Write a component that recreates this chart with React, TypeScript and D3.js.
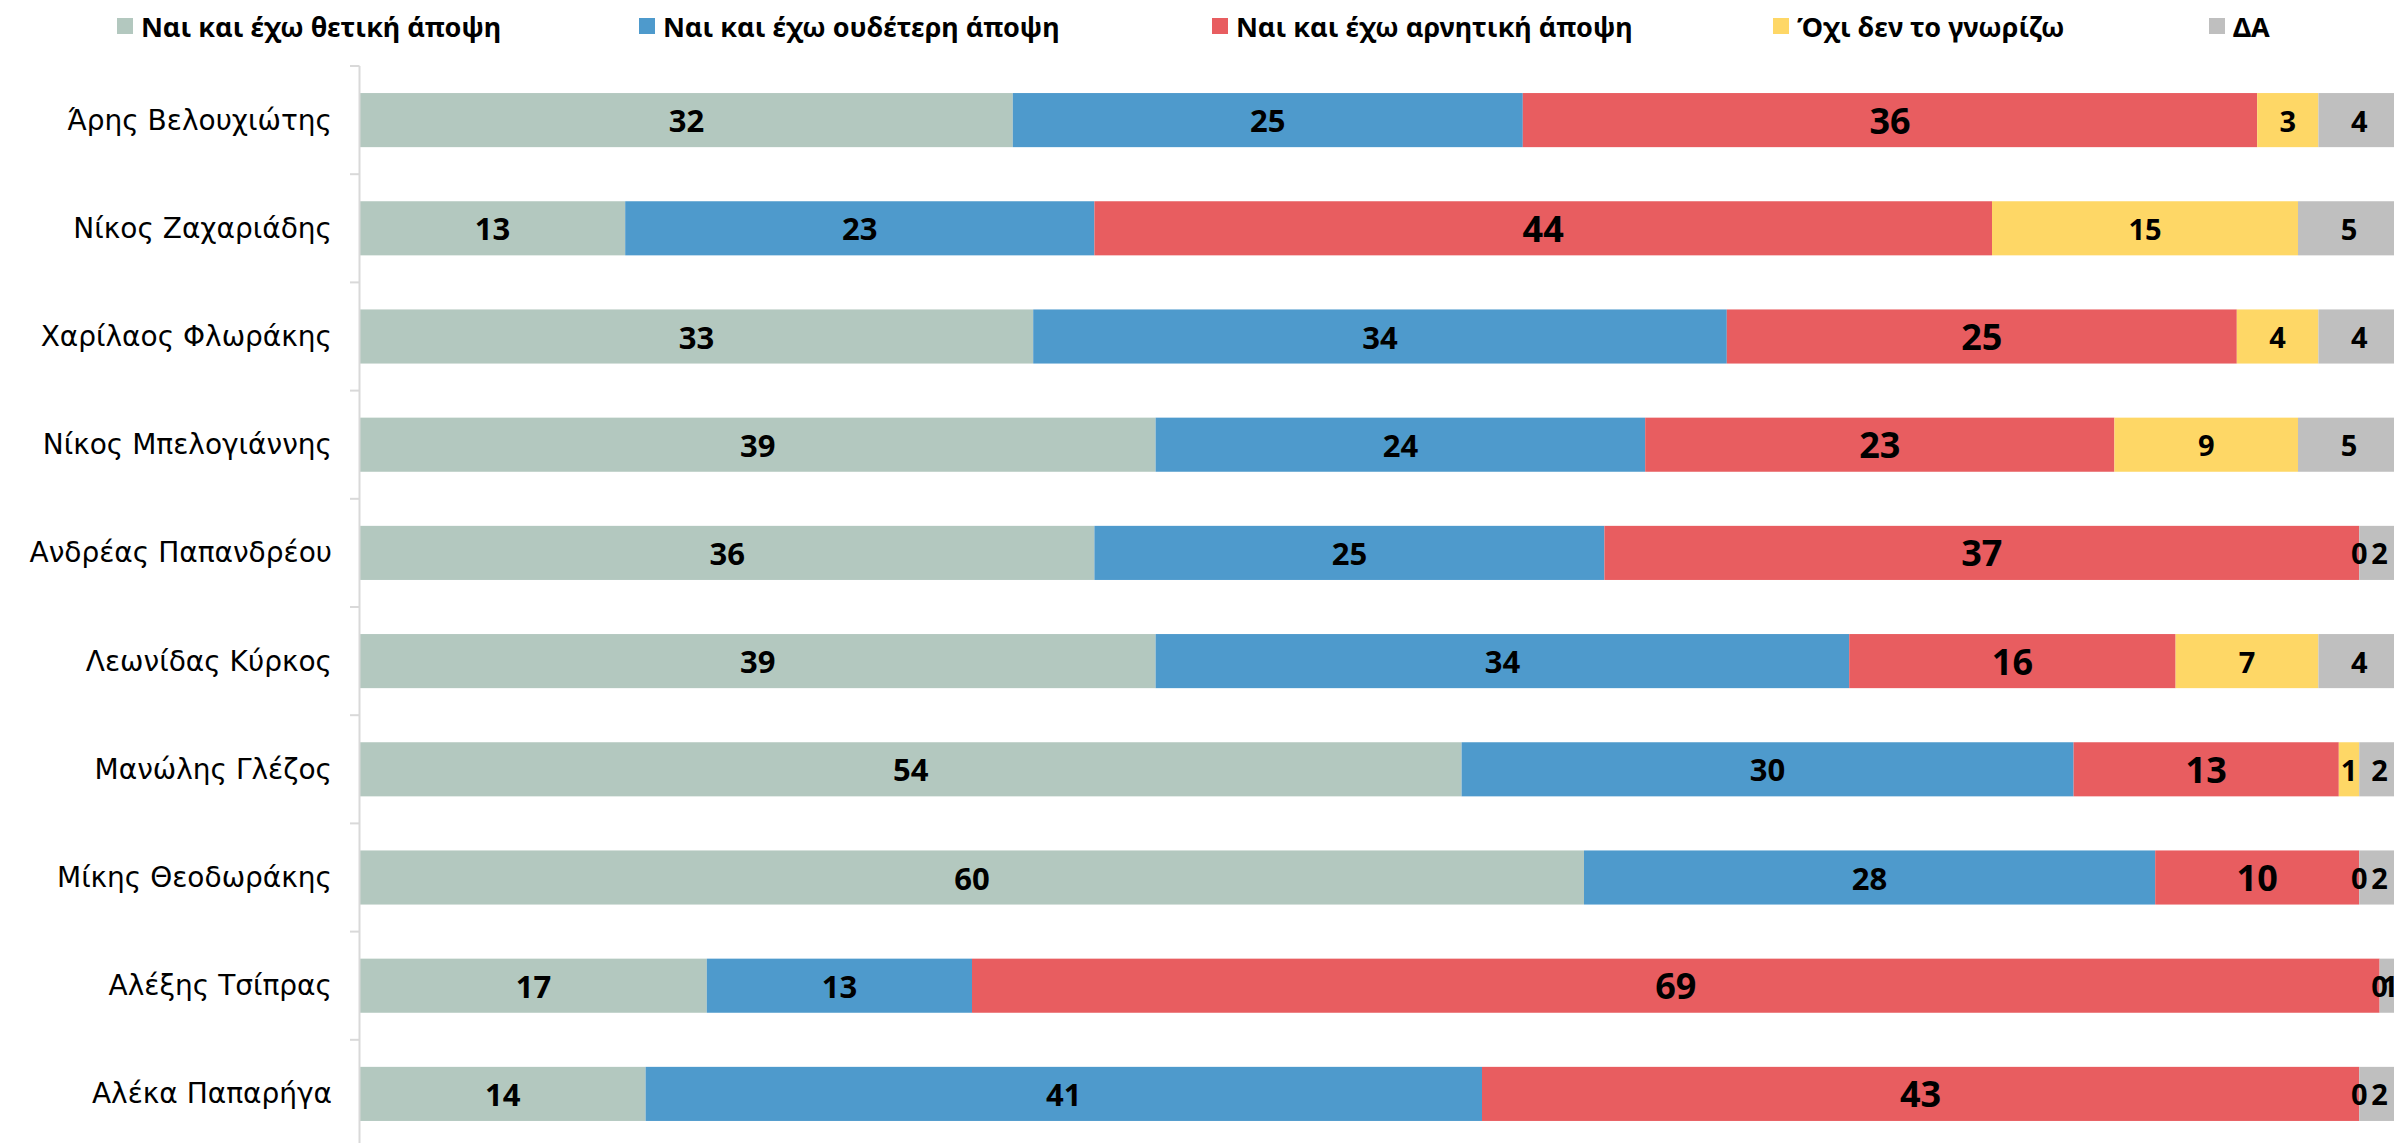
import React from "react";
import * as d3 from "d3";

const categories = [
  "Άρης Βελουχιώτης",
  "Νίκος Ζαχαριάδης",
  "Χαρίλαος Φλωράκης",
  "Νίκος Μπελογιάννης",
  "Ανδρέας Παπανδρέου",
  "Λεωνίδας Κύρκος",
  "Μανώλης Γλέζος",
  "Μίκης Θεοδωράκης",
  "Αλέξης Τσίπρας",
  "Αλέκα Παπαρήγα",
];

const seriesNames = [
  "Ναι και έχω θετική άποψη",
  "Ναι και έχω ουδέτερη άποψη",
  "Ναι και έχω αρνητική άποψη",
  "Όχι δεν το γνωρίζω",
  "ΔΑ",
];

const positive = [32, 13, 33, 39, 36, 39, 54, 60, 17, 14];
const neutral = [25, 23, 34, 24, 25, 34, 30, 28, 13, 41];
const negative = [36, 44, 25, 23, 37, 16, 13, 10, 69, 43];
const unknown = [3, 15, 4, 9, 0, 7, 1, 0, 0, 0];
const noAnswer = [4, 5, 4, 5, 2, 4, 2, 2, 1, 2];

const seriesValues = [positive, neutral, negative, unknown, noAnswer];
const colors = ["#B3C8BF", "#4E9ACC", "#E85D60", "#FED766", "#BFBFBF"];
const labelSizes = [31, 31, 36, 29, 29];

const legendX = [117, 639, 1212, 1773, 2209];

export default function App() {
  const W = 2394;
  const H = 1143;
  const x = d3.scaleLinear().domain([0, 100]).range([360, 2400]);
  const y = d3
    .scaleBand<string>()
    .domain(categories)
    .range([66, 1148])
    .paddingInner(0.5)
    .paddingOuter(0.25);

  const table = categories.map((c, i) => {
    const row: any = { cat: c };
    seriesNames.forEach((s, j) => (row[s] = seriesValues[j][i]));
    return row;
  });
  const stacked = d3.stack<any>().keys(seriesNames)(table);

  const step = y.step();
  const tickYs = categories.map((c) => (y(c) as number) - step * 0.25);
  tickYs.push(tickYs[tickYs.length - 1] + step);

  return (
    <svg
      width={W}
      height={H}
      style={{ position: "absolute", left: 0, top: 0, background: "#fff" }}
    >
      {/* legend */}
      {seriesNames.map((s, j) => (
        <g key={s}>
          <rect x={legendX[j]} y={18} width={16} height={16} fill={colors[j]} />
          <text
            x={legendX[j] + 24}
            y={26}
            dominantBaseline="central"
            fontFamily="'Noto Sans', 'Open Sans', sans-serif"
            fontWeight="bold"
            fontSize={27}
            fill="#000"
          >
            {s}
          </text>
        </g>
      ))}

      {/* bars */}
      {stacked.map((layer, j) => (
        <g key={layer.key}>
          {layer.map((d, i) => (
            <rect
              key={i}
              x={x(d[0])}
              y={y(categories[i])}
              width={Math.max(0, x(d[1]) - x(d[0]))}
              height={y.bandwidth()}
              fill={colors[j]}
            />
          ))}
        </g>
      ))}

      {/* value labels */}
      {stacked.map((layer, j) => (
        <g key={"l" + layer.key}>
          {layer.map((d, i) => (
            <text
              key={i}
              x={(x(d[0]) + x(d[1])) / 2}
              y={(y(categories[i]) as number) + y.bandwidth() / 2}
              textAnchor="middle"
              dominantBaseline="central"
              fontFamily="'Open Sans', 'Noto Sans', sans-serif"
              fontWeight="bold"
              fontSize={labelSizes[j]}
              fill="#000"
            >
              {seriesValues[j][i]}
            </text>
          ))}
        </g>
      ))}

      {/* axis */}
      <line x1={359.5} x2={359.5} y1={66} y2={H} stroke="#D9D9D9" strokeWidth={2} />
      {tickYs.map((t, i) => (
        <line key={i} x1={350} x2={359.5} y1={t} y2={t} stroke="#D9D9D9" strokeWidth={2} />
      ))}
      {categories.map((c) => (
        <text
          key={c}
          x={332}
          y={(y(c) as number) + y.bandwidth() / 2}
          textAnchor="end"
          dominantBaseline="central"
          fontFamily="'DejaVu Sans', sans-serif"
          fontSize={28}
          fill="#000"
        >
          {c}
        </text>
      ))}
    </svg>
  );
}
